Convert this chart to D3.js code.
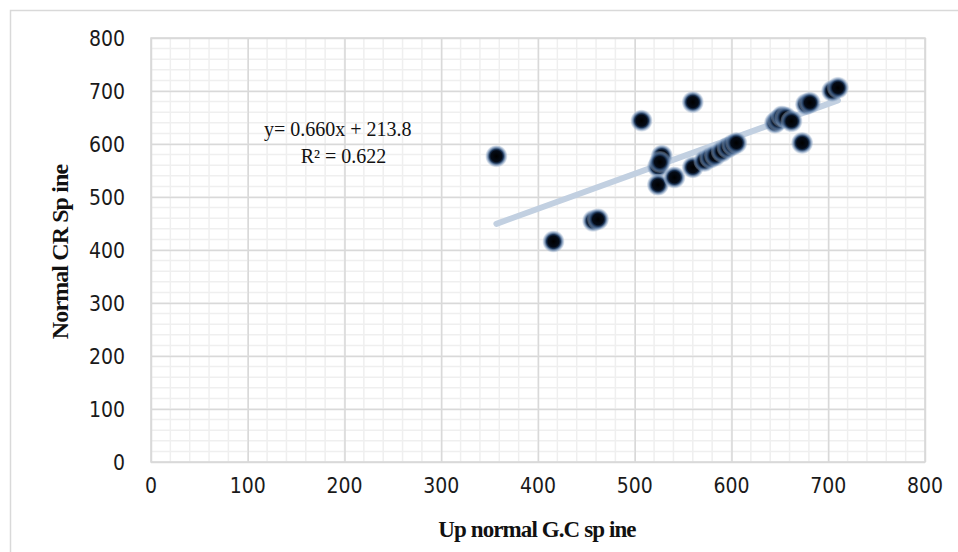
<!DOCTYPE html>
<html>
<head>
<meta charset="utf-8">
<script src="https://cdn.jsdelivr.net/npm/d3@7"></script>
<style>
  body { margin: 0; background: #fff; }
  svg { display: block; }
</style>
</head>
<body>
<div id="chart"></div>
<script>
var svgWidth = 958;
var svgHeight = 552;

var margin = { top: 38, right: 33, bottom: 90, left: 151 };
var width = svgWidth - margin.left - margin.right;
var height = svgHeight - margin.top - margin.bottom;

// values
var gcSpine = [357, 416, 457, 462, 507, 560, 524, 528, 524, 526, 541, 560, 572, 578, 583, 590, 596, 601, 605, 645, 648, 652, 656, 662, 673, 677, 681, 704, 710];
var crSpine = [577, 416, 455, 458, 644, 679, 557, 578, 523, 566, 537, 556, 568, 574, 578, 586, 593, 598, 602, 640, 645, 652, 650, 643, 602, 675, 678, 700, 706];
var xTicks = [0, 100, 200, 300, 400, 500, 600, 700, 800];
var yTicks = [0, 100, 200, 300, 400, 500, 600, 700, 800];
var trend = { slope: 0.660, intercept: 213.8, r2: 0.622 };

var data = gcSpine.map(function(x, i) { return { x: x, y: crSpine[i] }; });

var svg = d3.select("#chart").append("svg")
  .attr("width", svgWidth)
  .attr("height", svgHeight);

// glow for the markers
var grad = svg.append("defs").append("radialGradient").attr("id", "glow");
grad.append("stop").attr("offset", "0%").attr("stop-color", "#000000");
grad.append("stop").attr("offset", "50%").attr("stop-color", "#040b17");
grad.append("stop").attr("offset", "64%").attr("stop-color", "#1c3557");
grad.append("stop").attr("offset", "80%").attr("stop-color", "#5a7aa3").attr("stop-opacity", 0.75);
grad.append("stop").attr("offset", "100%").attr("stop-color", "#a9bdd6").attr("stop-opacity", 0.25);

// chart area frame
svg.append("rect")
  .attr("x", 10.5).attr("y", 10.5)
  .attr("width", 960).attr("height", 560)
  .attr("fill", "none")
  .attr("stroke", "#d9d9d9")
  .attr("stroke-width", 1.5);

var chartGroup = svg.append("g")
  .attr("transform", `translate(${margin.left}, ${margin.top})`);

var xScale = d3.scaleLinear().domain([0, 800]).range([0, width]);
var yScale = d3.scaleLinear().domain([0, 800]).range([height, 0]);

// minor grid
chartGroup.append("g")
  .selectAll("line")
  .data(d3.range(0, 801, 20))
  .enter().append("line")
  .attr("x1", d => xScale(d)).attr("x2", d => xScale(d))
  .attr("y1", 0).attr("y2", height)
  .attr("stroke", "#efefef").attr("stroke-width", 1.5);

chartGroup.append("g")
  .selectAll("line")
  .data(d3.range(0, 801, 20))
  .enter().append("line")
  .attr("y1", d => yScale(d)).attr("y2", d => yScale(d))
  .attr("x1", 0).attr("x2", width)
  .attr("stroke", "#efefef").attr("stroke-width", 1.5);

// major grid
var xAxis = chartGroup.append("g")
  .call(d3.axisBottom(xScale).tickValues(xTicks).tickSize(height).tickFormat(""));
var yAxis = chartGroup.append("g")
  .call(d3.axisLeft(yScale).tickValues(yTicks).tickSize(-width).tickFormat(""));

xAxis.selectAll(".tick line").attr("stroke", "#d9d9d9").attr("stroke-width", 1.5);
yAxis.selectAll(".tick line").attr("stroke", "#d9d9d9").attr("stroke-width", 1.5);
xAxis.select(".domain").remove();
yAxis.select(".domain").remove();

chartGroup.append("rect")
  .attr("width", width).attr("height", height)
  .attr("fill", "none")
  .attr("stroke", "#d9d9d9")
  .attr("stroke-width", 1.5);

// tick labels
var tickFont = "'DejaVu Sans Condensed', 'DejaVu Sans', sans-serif";

chartGroup.append("g")
  .selectAll("text")
  .data(xTicks)
  .enter().append("text")
  .attr("x", d => xScale(d))
  .attr("y", height + 31)
  .attr("text-anchor", "middle")
  .attr("font-family", tickFont)
  .attr("font-size", "21px")
  .attr("fill", "#1a1a1a")
  .text(d => d);

chartGroup.append("g")
  .selectAll("text")
  .data(yTicks)
  .enter().append("text")
  .attr("x", -26)
  .attr("y", d => yScale(d) + 8)
  .attr("text-anchor", "end")
  .attr("font-family", tickFont)
  .attr("font-size", "21px")
  .attr("fill", "#1a1a1a")
  .text(d => d);

// trend line
var xExtent = d3.extent(gcSpine);
chartGroup.append("line")
  .attr("x1", xScale(xExtent[0]))
  .attr("y1", yScale(trend.slope * xExtent[0] + trend.intercept))
  .attr("x2", xScale(xExtent[1]))
  .attr("y2", yScale(trend.slope * xExtent[1] + trend.intercept))
  .attr("stroke", "#c2d0e1")
  .attr("stroke-width", 6)
  .attr("stroke-linecap", "round");

// points
chartGroup.selectAll(".pt")
  .data(data)
  .enter().append("circle")
  .attr("cx", d => xScale(d.x))
  .attr("cy", d => yScale(d.y))
  .attr("r", 11)
  .attr("fill", "url(#glow)");

// equation
var eq = chartGroup.append("text")
  .attr("font-family", "'Liberation Serif', serif")
  .attr("font-size", "20px")
  .attr("fill", "#111")
  .attr("text-anchor", "middle");
eq.append("tspan")
  .attr("x", xScale(193)).attr("y", yScale(615))
  .text(`y= ${trend.slope.toFixed(3)}x + ${trend.intercept}`);
eq.append("tspan")
  .attr("x", xScale(199)).attr("y", yScale(565))
  .text(`R² = ${trend.r2}`);

// axis titles
svg.append("text")
  .attr("x", 537)
  .attr("y", 537)
  .attr("text-anchor", "middle")
  .attr("font-family", "'Liberation Serif', serif")
  .attr("font-weight", "bold")
  .attr("font-size", "23px")
  .attr("letter-spacing", "-0.9px")
  .attr("fill", "#111")
  .text("Up normal G.C sp ine");

svg.append("text")
  .attr("transform", "translate(68, 252) rotate(-90)")
  .attr("text-anchor", "middle")
  .attr("font-family", "'Liberation Serif', serif")
  .attr("font-weight", "bold")
  .attr("font-size", "24px")
  .attr("letter-spacing", "-0.9px")
  .attr("fill", "#111")
  .text("Normal CR Sp ine");
</script>
</body>
</html>
